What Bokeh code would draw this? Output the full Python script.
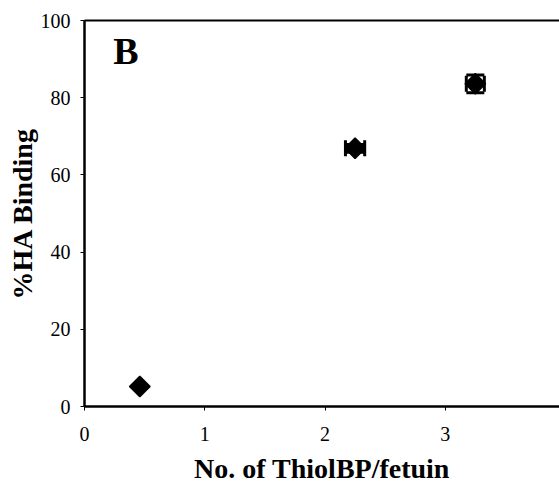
import math
from bokeh.plotting import figure
from bokeh.models import ColumnDataSource, Whisker, LinearAxis, Range1d, FixedTicker, Label, TeeHead
from bokeh.embed import file_html
from bokeh.resources import INLINE

# ThiolBP loading per fetuin vs. HA binding
thiol_per_fetuin = [0.46, 2.25, 3.25]
ha_binding = [5.2, 66.9, 83.6]
x_err = [0.0, 0.08, 0.075]
y_err = [0.0, 1.0, 2.3]
x_ticks = [0, 1, 2, 3, 4]
y_ticks = [0, 20, 40, 60, 80, 100]

src = ColumnDataSource(dict(
    x=thiol_per_fetuin, y=ha_binding,
    xl=[a - e for a, e in zip(thiol_per_fetuin, x_err)],
    xu=[a + e for a, e in zip(thiol_per_fetuin, x_err)],
    yl=[a - e for a, e in zip(ha_binding, y_err)],
    yu=[a + e for a, e in zip(ha_binding, y_err)],
))
err_src = ColumnDataSource({k: v[1:] for k, v in src.data.items()})

FONT = "Liberation Serif"

p = figure(width=559, height=489, output_backend="svg", toolbar_location=None,
           x_range=Range1d(0, 3.95), y_range=Range1d(0, 100),
           min_border_left=84, min_border_bottom=83, min_border_top=20,
           min_border_right=0)
p.outline_line_color = None
p.background_fill_color = "white"
p.border_fill_color = "white"
p.grid.visible = False

for ax in (p.xaxis[0], p.yaxis[0]):
    ax.axis_line_width = 2.5
    ax.axis_line_color = "black"
    ax.major_tick_in = 0
    ax.major_tick_out = 4
    ax.major_tick_line_width = 1
    ax.minor_tick_line_color = None
    ax.major_label_text_font = FONT
    ax.major_label_text_font_size = "20px"
    ax.major_label_text_color = "black"
    ax.axis_label_text_font = FONT
    ax.axis_label_text_font_style = "bold"
    ax.axis_label_text_font_size = "28px"
    ax.axis_label_text_color = "black"

p.xaxis.ticker = FixedTicker(ticks=x_ticks)
p.yaxis.ticker = FixedTicker(ticks=y_ticks)
p.xaxis.axis_label = "No. of ThiolBP/fetuin"
p.yaxis.axis_label = "%HA Binding"
p.xaxis.major_label_standoff = 16
p.xaxis.axis_label_standoff = 9
p.yaxis.major_label_standoff = 10
p.yaxis.axis_label_standoff = 0

# plain frame line along the top edge
top = LinearAxis(axis_line_width=2, major_tick_line_color=None,
                 minor_tick_line_color=None, major_label_text_font_size="0px",
                 major_label_standoff=0)
top.ticker = FixedTicker(ticks=[])
p.add_layout(top, "above")

# horizontal and vertical error bars with caps
p.add_layout(Whisker(source=err_src, base="y", lower="xl", upper="xu", dimension="width",
                     line_color="black", line_width=2,
                     lower_head=TeeHead(size=16, line_width=3, line_color="black"),
                     upper_head=TeeHead(size=16, line_width=3, line_color="black")))
p.add_layout(Whisker(source=err_src, base="x", lower="yl", upper="yu", dimension="height",
                     line_color="black", line_width=2,
                     lower_head=TeeHead(size=18, line_width=3, line_color="black"),
                     upper_head=TeeHead(size=18, line_width=3, line_color="black")))

p.scatter(x="x", y="y", source=src, marker="square", size=14.5, angle=math.pi / 4,
          fill_color="black", line_color="black", line_width=1.5)

p.add_layout(Label(x=0.24, y=97.5, text="B", text_font=FONT, text_font_style="bold",
                   text_font_size="38px", text_color="black", text_baseline="top"))

open("out.html", "w").write(file_html(p, INLINE))
